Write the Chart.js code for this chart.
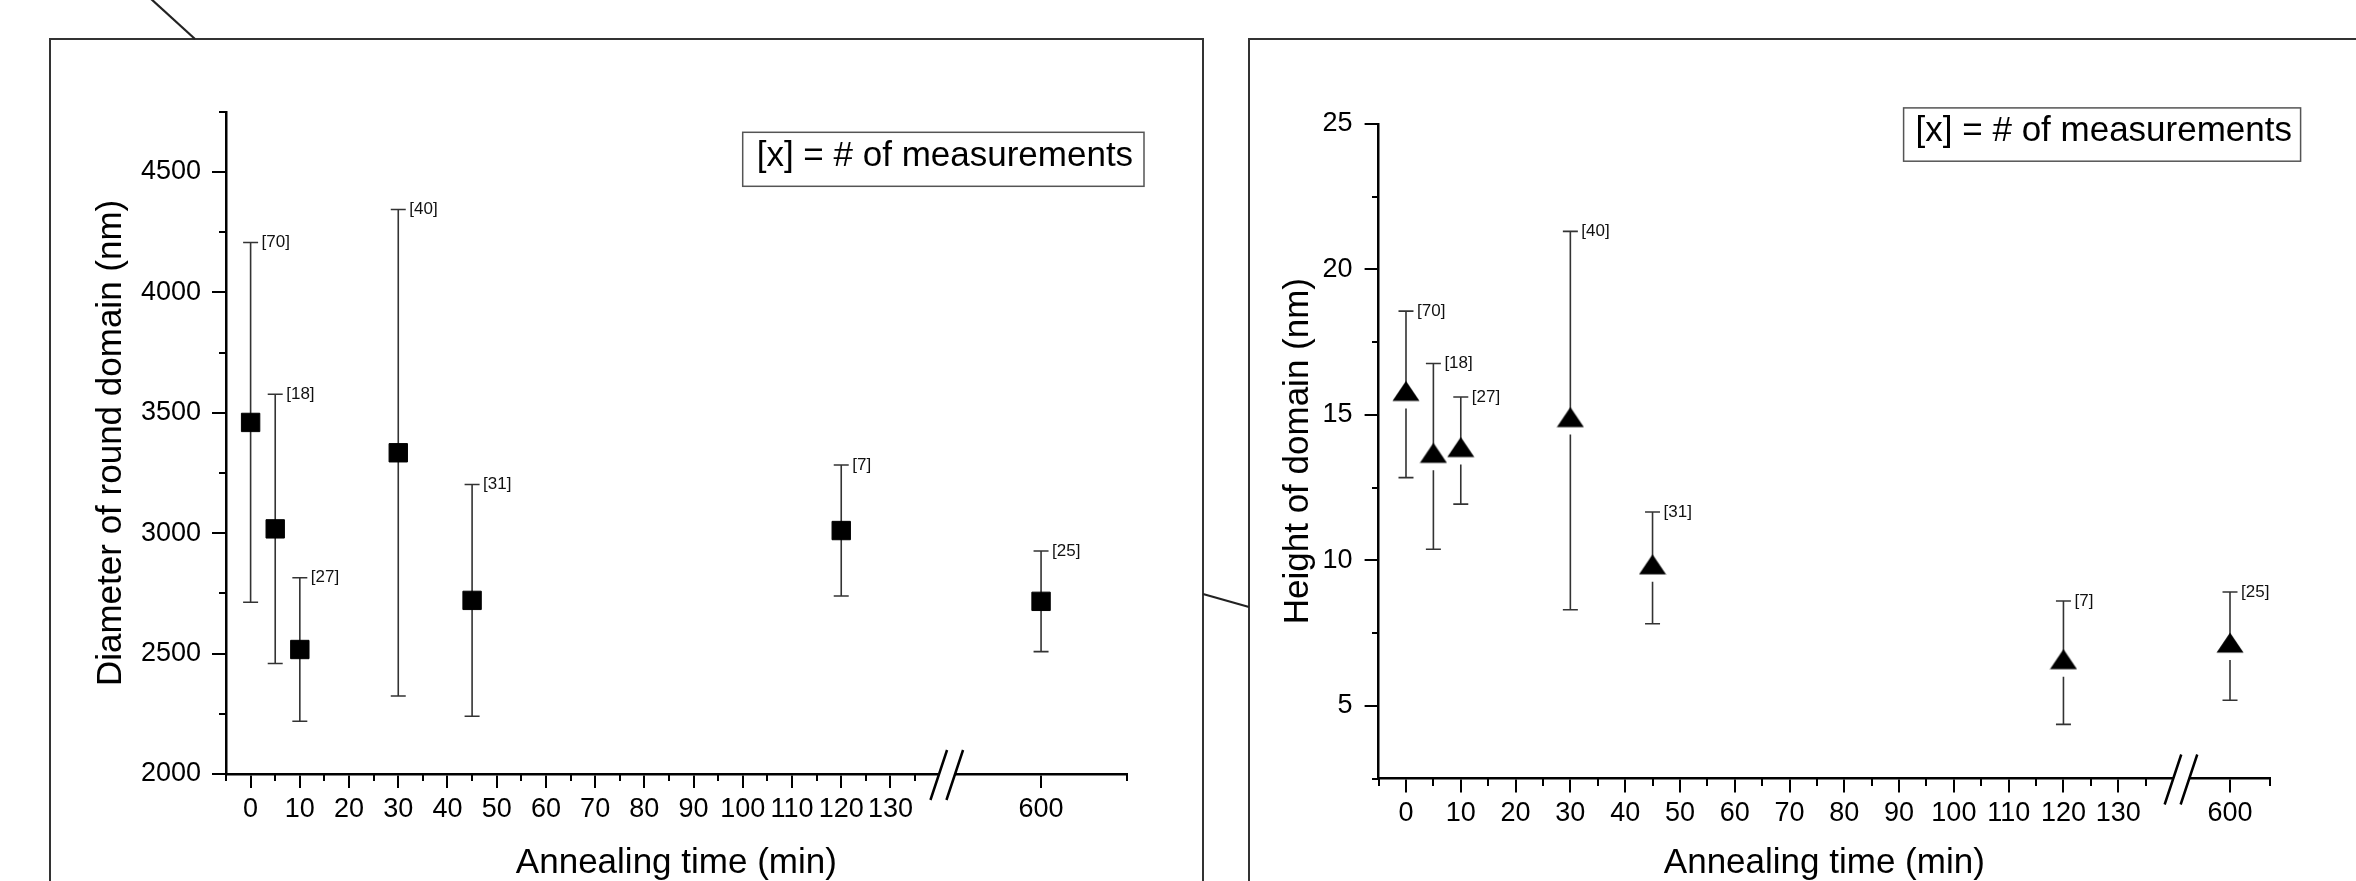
<!DOCTYPE html>
<html>
<head>
<meta charset="utf-8">
<script src="https://cdn.jsdelivr.net/npm/chart.js@4.4.0/dist/chart.umd.min.js"></script>
<style>
  html, body { margin: 0; padding: 0; background: #fff; width: 2356px; height: 881px; overflow: hidden; }
  .frame { position: absolute; border: 2px solid #333; box-sizing: border-box; }
  canvas { position: absolute; }
  svg { position: absolute; left: 0; top: 0; }
</style>
</head>
<body>
<div class="frame" style="left:48.6px; top:38px; width:1155px; height:900px;"></div>
<div class="frame" style="left:1248px; top:38px; width:1200px; height:900px;"></div>
<svg width="2356" height="881">
  <line x1="150" y1="-2" x2="195" y2="39" stroke="#222" stroke-width="2.2"/>
  <line x1="1203" y1="594" x2="1249" y2="607" stroke="#222" stroke-width="2.2"/>
</svg>
<canvas id="diameterChart" width="1148" height="860" style="left:52px; top:40px;"></canvas>
<canvas id="heightChart" width="1105" height="860" style="left:1251px; top:40px;"></canvas>
<script>
// annealing times (min) and number of measurements per point
const times = [0, 5, 10, 30, 45, 120, 600];
const counts = [70, 18, 27, 40, 31, 7, 25];

// round domain diameter (nm), mean and error
const diameter = [3460, 3018, 2517, 3334, 2721, 3011, 2717];
const diameterErr = [747, 559, 298, 1010, 481, 272, 209];

// domain height (nm), mean and error
const heightNm = [15.7, 13.57, 13.77, 14.8, 9.74, 6.48, 7.05];
const heightErr = [2.86, 3.19, 1.84, 6.5, 1.92, 2.12, 1.86];

// tick labels / tick marks
const timeTicks = [0, 10, 20, 30, 40, 50, 60, 70, 80, 90, 100, 110, 120, 130, 600];
const timeMinor = [-5, 5, 15, 25, 35, 45, 55, 65, 75, 85, 95, 105, 115, 125, 135];
const diameterTicks = [2000, 2500, 3000, 3500, 4000, 4500];
const diameterMinor = [2250, 2750, 3250, 3750, 4250, 4750];
const heightTicks = [5, 10, 15, 20, 25];
const heightMinor = [2.5, 7.5, 12.5, 17.5, 22.5];

const FONT = "'Liberation Sans', Arial, sans-serif";
const BREAK_AT = 141.5; // where the x axis is cut

// times past the break sit right after it on the axis
const axisPos = (t, p600) => t > BREAK_AT ? p600 + (t - 600) : t;

function triangleMarker() {
    const c = document.createElement('canvas');
    c.width = 28;
    c.height = 28;
    const g = c.getContext('2d');
    g.fillStyle = '#000';
    g.beginPath();
    g.moveTo(14, 0.5);
    g.lineTo(27.5, 20.5);
    g.lineTo(0.5, 20.5);
    g.closePath();
    g.fill();
    return c;
}

const errorBars = {
    id: 'errorBars',
    beforeDatasetsDraw(chart, args, o) {
        const {ctx, scales: {x, y}} = chart;
        const ds = chart.data.datasets[0];
        ctx.save();
        ctx.strokeStyle = '#333';
        ctx.lineWidth = 1.6;
        ds.data.forEach((p, i) => {
            const px = x.getPixelForValue(p.x);
            const pm = y.getPixelForValue(p.y);
            const pt = y.getPixelForValue(p.y + ds.errors[i]);
            const pb = y.getPixelForValue(p.y - ds.errors[i]);
            ctx.beginPath();
            ctx.moveTo(px, pt); ctx.lineTo(px, pm);
            ctx.moveTo(px, pm + o.gapBelow); ctx.lineTo(px, pb);
            ctx.moveTo(px - o.cap, pt); ctx.lineTo(px + o.cap, pt);
            ctx.moveTo(px - o.cap, pb); ctx.lineTo(px + o.cap, pb);
            ctx.stroke();
        });
        ctx.restore();
    },
    afterDatasetsDraw(chart) {
        const {ctx, scales: {x, y}} = chart;
        const ds = chart.data.datasets[0];
        ctx.save();
        ctx.fillStyle = '#111';
        ctx.font = '17px ' + FONT;
        ctx.textAlign = 'left';
        ctx.textBaseline = 'middle';
        ds.data.forEach((p, i) => {
            const px = x.getPixelForValue(p.x);
            const pt = y.getPixelForValue(p.y + ds.errors[i]);
            ctx.fillText('[' + ds.counts[i] + ']', px + 11, pt);
        });
        ctx.restore();
    }
};

const axisBreak = {
    id: 'axisBreak',
    afterDraw(chart, args, o) {
        const {ctx, chartArea} = chart;
        const cx = chart.scales.x.getPixelForValue(o.at);
        const cy = chartArea.bottom;
        ctx.save();
        ctx.fillStyle = '#fff';
        ctx.fillRect(cx - 8, cy - 3, 16, 6);
        ctx.strokeStyle = '#000';
        ctx.lineWidth = 2.5;
        ctx.beginPath();
        [-8, 8].forEach(d => {
            ctx.moveTo(cx + d - 8.6, cy + 26);
            ctx.lineTo(cx + d + 8, cy - 24);
        });
        ctx.stroke();
        ctx.restore();
    }
};

const noteBox = {
    id: 'noteBox',
    afterDraw(chart, args, o) {
        const ctx = chart.ctx;
        ctx.save();
        ctx.strokeStyle = '#555';
        ctx.lineWidth = 1.5;
        ctx.strokeRect(o.x, o.y, o.w, o.h);
        ctx.fillStyle = '#000';
        ctx.font = '35px ' + FONT;
        ctx.textAlign = 'left';
        ctx.textBaseline = 'middle';
        ctx.fillText('[x] = # of measurements', o.x + o.pad, o.y + o.h / 2 - 3);
        ctx.restore();
    }
};

function makeChart(id, c) {
    const ctx = document.getElementById(id).getContext('2d');
    return new Chart(ctx, {
        type: 'scatter',
        data: {
            datasets: [{
                data: times.map((t, i) => ({x: axisPos(t, c.pos600), y: c.values[i]})),
                errors: c.errors,
                counts: counts,
                pointStyle: c.pointStyle,
                pointRadius: c.radius,
                pointHoverRadius: c.radius,
                pointBackgroundColor: '#000',
                pointBorderColor: '#000',
                pointBorderWidth: 1
            }]
        },
        options: {
            responsive: false,
            animation: false,
            devicePixelRatio: 1,
            events: [],
            layout: {padding: {left: 0, right: c.padRight, top: c.padTop, bottom: 0}},
            scales: {
                x: {
                    type: 'linear',
                    bounds: 'data',
                    min: -5,
                    max: c.xMax,
                    afterBuildTicks: s => { s.ticks = timeTicks.map(t => ({value: axisPos(t, c.pos600)})); },
                    afterFit: s => { s.height = c.xHeight; },
                    ticks: {
                        autoSkip: false,
                        maxRotation: 0,
                        minRotation: 0,
                        padding: 5,
                        color: '#000',
                        font: {family: FONT, size: 27},
                        callback: v => v > BREAK_AT ? String(Math.round(600 + v - c.pos600)) : String(v)
                    },
                    grid: {drawOnChartArea: false, tickLength: 14, lineWidth: 2, color: '#000'},
                    border: {width: 2.5, color: '#000'},
                    title: {
                        display: true,
                        text: 'Annealing time (min)',
                        color: '#000',
                        font: {family: FONT, size: 35},
                        padding: {top: 0, bottom: 16}
                    }
                },
                xMinor: {
                    axis: 'x',
                    type: 'linear',
                    position: {y: c.yMin},
                    min: -5,
                    max: c.xMax,
                    afterBuildTicks: s => { s.ticks = timeMinor.concat([c.xMax]).map(v => ({value: v})); },
                    ticks: {display: false},
                    grid: {drawOnChartArea: false, tickLength: 7, lineWidth: 2, color: '#000'},
                    border: {display: false}
                },
                y: {
                    type: 'linear',
                    bounds: 'data',
                    min: c.yMin,
                    max: c.yMax,
                    afterBuildTicks: s => { s.ticks = c.yTicks.map(v => ({value: v})); },
                    afterFit: s => { s.width = c.yWidth; },
                    ticks: {
                        padding: c.yTickPad,
                        color: '#000',
                        font: {family: FONT, size: 27},
                        callback: v => String(v)
                    },
                    grid: {drawOnChartArea: false, tickLength: 14, lineWidth: 2, color: '#000'},
                    border: {width: 2.5, color: '#000'},
                    title: {
                        display: true,
                        text: c.yTitle,
                        color: '#000',
                        font: {family: FONT, size: 35},
                        padding: {top: c.yTitlePad, bottom: 0}
                    }
                },
                yMinor: {
                    axis: 'y',
                    type: 'linear',
                    position: {x: -5},
                    min: c.yMin,
                    max: c.yMax,
                    afterBuildTicks: s => { s.ticks = c.yMinor.map(v => ({value: v})); },
                    ticks: {display: false},
                    grid: {drawOnChartArea: false, tickLength: 7, lineWidth: 2, color: '#000'},
                    border: {display: false}
                }
            },
            plugins: {
                legend: {display: false},
                tooltip: {enabled: false},
                errorBars: {cap: 7.5, gapBelow: c.gapBelow},
                axisBreak: {at: BREAK_AT},
                noteBox: c.box
            }
        },
        plugins: [errorBars, axisBreak, noteBox]
    });
}

// Diameter of round domain
makeChart('diameterChart', {
    values: diameter,
    errors: diameterErr,
    yTicks: diameterTicks,
    yMinor: diameterMinor,
    yMin: 2000,
    yMax: 4750,
    yTitle: 'Diameter of round domain (nm)',
    pointStyle: 'rect',
    radius: 13,
    gapBelow: 0,
    pos600: 160.6,
    xMax: 178,
    yWidth: 174,
    xHeight: 126,
    padTop: 71.8,
    padRight: 73.3,
    yTitlePad: 38,
    yTickPad: 11,
    box: {x: 690.7, y: 92.3, w: 401.3, h: 54, pad: 14}
});

// Height of domain
makeChart('heightChart', {
    values: heightNm,
    errors: heightErr,
    yTicks: heightTicks,
    yMinor: heightMinor,
    yMin: 2.5,
    yMax: 25,
    yTitle: 'Height of domain (nm)',
    pointStyle: triangleMarker(),
    radius: 13,
    gapBelow: 14,
    pos600: 150.4,
    xMax: 157.7,
    yWidth: 127.6,
    xHeight: 121.5,
    padTop: 83.75,
    padRight: 86,
    yTitlePad: 26,
    yTickPad: 12,
    box: {x: 652.6, y: 67.9, w: 397, h: 53.3, pad: 12}
});
</script>
</body>
</html>
